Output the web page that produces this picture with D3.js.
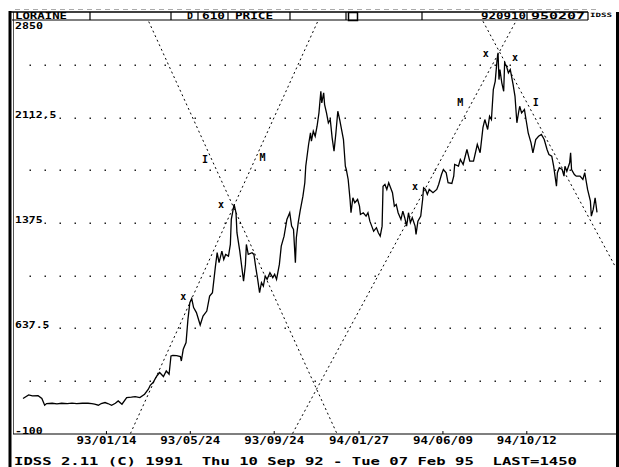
<!DOCTYPE html>
<html><head><meta charset="utf-8">
<script src="https://cdn.jsdelivr.net/npm/d3@7"></script>
<style>html,body{margin:0;padding:0;background:#fff;} svg{display:block}</style>
</head><body>
<svg id="c" width="619" height="467"></svg>
<script>
// ---- data ----
const barIndex = [0,6,10,16,20,23,25,31,36,41,47,52,57,63,69,73,76,80,83,87,90,94,98,101,105,110,115,119,124,129,133,135,138,142,145,149,152,155,157,159,163,167,168,170,173,175,177,179,181,184,188,191,195,198,201,
204,206,208,211,213,215,218,220,221,224,226,227,230,232,234,236,237,239,243,245,247,249,251,253,255,257,259,262,265,267,269,272,274,277,280,283,285,287,289,290,292,294,297,299,
300,303,305,306,308,310,312,314,316,317,319,320,322,324,326,328,330,332,334,336,338,340,342,343,345,347,348,350,352,355,357,358,361,364,366,368,370,372,375,377,379,381,382,384,386,388,390,392,394,396,398,401,403,405,407,409,411,413,416,417,419,422,424,425,427,429,431,
435,439,441,444,446,449,451,455,457,458,462,464,467,471,474,478,482,485,488,490,493,495,497,499,501,503,504,505,506,508,510,511,513,515,517,520,522,524,526,527,529,532,534,536,539,541,544,547,550,553,556,558,561,563,566,567,569,572,574,575,577,580,581,582,585,587,591,594,596,599,602,603,605,607,609];
const price = [145,170,163,165,145,98,110,112,108,112,110,113,110,112,112,110,105,98,110,117,110,98,112,128,105,152,155,159,152,175,210,238,257,303,327,299,338,315,443,448,445,439,408,490,537,700,817,845,782,747,660,723,758,863,887,
1062,1167,1097,1178,1120,1155,1143,1225,1400,1505,1447,1307,1178,1073,968,1085,1225,1155,1167,1155,1062,980,887,957,933,1003,980,1027,992,1015,980,1085,1213,1283,1400,1447,1353,1330,1097,1272,1377,1458,1563,1657,
1773,1925,2007,1948,2018,1983,2053,2147,2298,2217,2287,2205,2147,2077,2100,1972,1878,2007,2158,2100,2030,1960,1773,1750,1680,1540,1447,1552,1517,1540,1493,1435,1447,1423,1447,1388,1353,1318,1342,1307,1283,1353,1633,1645,1610,1657,1622,1587,1493,1505,1447,1400,1458,1412,1353,1447,1377,1412,1353,1295,1388,1423,1540,1622,1610,1575,1610,
1587,1610,1645,1715,1750,1727,1657,1652,1703,1785,1773,1820,1785,1890,1808,1808,1925,1867,2043,2100,2030,2123,2100,2310,2368,2520,2567,2380,2450,2357,2298,2497,2473,2427,2450,2345,2263,2077,2158,2193,2147,2170,2088,2007,1937,1867,1960,1983,1995,1960,1890,1855,1843,1773,1633,1727,1762,1750,1703,1773,1738,1797,1867,1750,1715,1703,1703,1680,1727,1610,1528,1423,1470,1552,1450];

const tickBars = [88,177,266,356,445,534];
const tickLabels = ["93/01/14","93/05/24","93/09/24","94/01/27","94/06/09","94/10/12"];
const yLabelValues = [2112.5,1375,637.5,-100];
const yLabelTexts = ["2112.5","1375","637.5","-100"];
const yTopLabel = "2850";
const gridValues = [2481.25,2112.5,1743.75,1375,1006.25,637.5,268.75];

const trendStartBar = [114,129,286,483];
const trendStartPrice = [-100,2850,-100,2850];
const trendEndBar = [317,333,528,630];
const trendEndPrice = [2850,-100,2850,1050];

const markBar = [170,210,416,491,522,193,254,464,544];
const markPrice = [863,1505,1633,2562,2532,1820,1834,2217,2217];
const markText = ["x","x","x","x","x","I","M","M","I"];

const footerText = "IDSS 2.11 (C) 1991  Thu 10 Sep 92 - Tue 07 Feb 95  LAST=1450";

// ---- drawing ----
const svg = d3.select("#c");
const FONT = "'DejaVu Sans Mono', 'Liberation Mono', monospace";
const x = d3.scaleLinear().domain([0,609]).range([23,597]);
const y = d3.scaleLinear().domain([-100,2850]).range([433.5,12.5]);

svg.append("rect").attr("width",619).attr("height",467).attr("fill","#fff");

svg.append("defs").append("clipPath").attr("id","plot")
  .append("rect").attr("x",14).attr("y",20.5).attr("width",601).attr("height",413.5);

// dotted grid
const dotXs = d3.range(2,41).map(k => k*15);
const grid = svg.append("g");
gridValues.forEach(v => {
  grid.selectAll(null).data(dotXs).enter().append("rect")
    .attr("x", d => d-0.5).attr("y", Math.round(y(v))-0.5)
    .attr("width",1.5).attr("height",1.5).attr("fill","#222");
});

// frame
const frame = svg.append("g").attr("fill","none").attr("stroke","#000");
frame.append("line").attr("x1",10).attr("x2",10).attr("y1",11).attr("y2",467).attr("stroke-width",3);
frame.append("line").attr("x1",617.5).attr("x2",617.5).attr("y1",12).attr("y2",467).attr("stroke-width",3);
frame.append("line").attr("x1",13.5).attr("x2",13.5).attr("y1",12).attr("y2",434).attr("stroke-width",1).attr("stroke","#555");
frame.append("line").attr("x1",13).attr("x2",617).attr("y1",434).attr("y2",434).attr("stroke-width",1.2);

// header
const hdr = svg.append("g");
hdr.append("line").attr("x1",15).attr("x2",600).attr("y1",9.5).attr("y2",9.5)
  .attr("stroke","#aaa").attr("stroke-dasharray","5,4");
hdr.append("line").attr("x1",9).attr("x2",588).attr("y1",12).attr("y2",12).attr("stroke","#000").attr("stroke-width",1.5);
hdr.append("line").attr("x1",12).attr("x2",588).attr("y1",20).attr("y2",20).attr("stroke","#000").attr("stroke-width",1);
[90,171,198,228,290,346,422,527,588].forEach(d => {
  hdr.append("line").attr("x1",d).attr("x2",d).attr("y1",12).attr("y2",20).attr("stroke","#000").attr("stroke-width",1.2);
});
hdr.append("rect").attr("x",348.5).attr("y",12.5).attr("width",9).attr("height",8)
  .attr("fill","none").attr("stroke","#000").attr("stroke-width",1.5);
const headerItems = [["LORAINE",15,52],["D",187,6],["610",202,23],["PRICE",235,38],["920910",481,45],["950207",531,54]];
headerItems.forEach(([t,x0,w]) => {
  hdr.append("text").attr("x",x0).attr("y",18.5).text(t)
    .attr("font-family",FONT).attr("font-weight","bold").attr("font-size",8.5)
    .attr("textLength",w).attr("lengthAdjust","spacingAndGlyphs").attr("fill","#000");
});
hdr.append("text").attr("x",590).attr("y",16.5).text("IDSS")
  .attr("font-family",FONT).attr("font-weight","bold").attr("font-size",6)
  .attr("textLength",22).attr("lengthAdjust","spacingAndGlyphs");

// y labels
const yl = svg.append("g").attr("font-family",FONT).attr("font-weight","bold").attr("font-size",9);
yLabelValues.forEach((v,i) => {
  yl.append("text").attr("x",15).attr("y",Math.round(y(v))-0.5).text(yLabelTexts[i])
    .attr("textLength",yLabelTexts[i].length*6.9).attr("lengthAdjust","spacingAndGlyphs");
});
yl.append("text").attr("x",15).attr("y",29).attr("font-size",8.5).text(yTopLabel)
  .attr("textLength",28).attr("lengthAdjust","spacingAndGlyphs");

// x axis
const xAxis = d3.axisBottom(x).tickValues(tickBars).tickFormat((d,i)=>tickLabels[i])
  .tickSizeInner(-3).tickSizeOuter(0).tickPadding(6);
const gx = svg.append("g").attr("transform","translate(0,434)").call(xAxis);
gx.select(".domain").remove();
gx.selectAll(".tick line").attr("stroke","#000");
gx.selectAll(".tick text").attr("font-family",FONT).attr("font-weight","bold").attr("font-size",10)
  .attr("fill","#000").attr("dy","0.55em").attr("y",4)
  .attr("textLength",60).attr("lengthAdjust","spacingAndGlyphs");

// trend lines
const tl = svg.append("g").attr("clip-path","url(#plot)");
trendStartBar.forEach((b,i) => {
  tl.append("line").attr("x1",x(b)).attr("y1",y(trendStartPrice[i]))
    .attr("x2",x(trendEndBar[i])).attr("y2",y(trendEndPrice[i]))
    .attr("stroke","#000").attr("stroke-width",1).attr("stroke-dasharray","2,3");
});

// price line
const pts = barIndex.map((b,i)=>[b,price[i]]);
svg.append("path").datum(pts)
  .attr("d", d3.line().x(d=>x(d[0])).y(d=>y(d[1])))
  .attr("fill","none").attr("stroke","#000").attr("stroke-width",1.3).attr("stroke-linejoin","miter");

// marks
const mk = svg.append("g").attr("font-family",FONT).attr("font-weight","bold").attr("font-size",10).attr("text-anchor","middle");
markBar.forEach((b,i) => {
  mk.append("text").attr("x",x(b)).attr("y",y(markPrice[i])+3.5).text(markText[i]);
});

// footer
svg.append("text").attr("x",14).attr("y",465).text(footerText)
  .attr("font-family",FONT).attr("font-weight","bold").attr("font-size",10.5)
  .attr("textLength",563).attr("lengthAdjust","spacingAndGlyphs").attr("xml:space","preserve")
  .style("white-space","pre");
</script>
</body></html>
